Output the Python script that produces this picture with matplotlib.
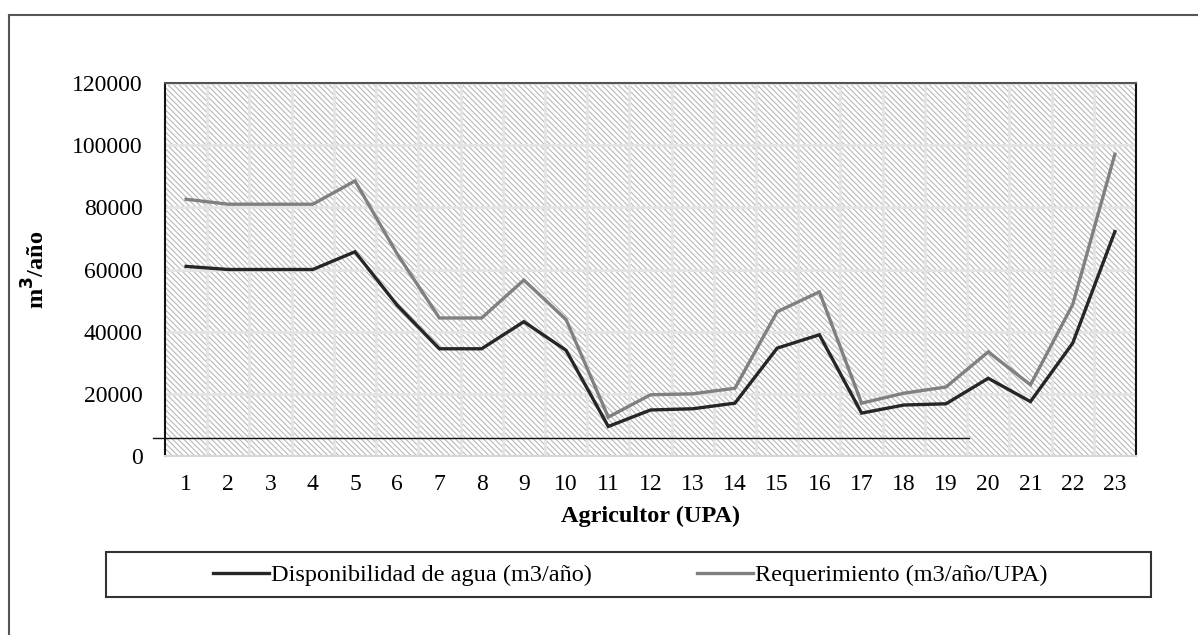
import matplotlib
matplotlib.use('Agg')
import matplotlib.pyplot as plt
from matplotlib.lines import Line2D
from matplotlib.patches import Rectangle
import numpy as np

plt.rcParams['font.family'] = ['Liberation Serif', 'DejaVu Serif']
plt.rcParams['hatch.color'] = '#b8b8b8'
plt.rcParams['hatch.linewidth'] = 0.8

agricultor = list(range(1, 24))
disponibilidad = [61000, 60000, 60000, 60000, 65700, 48500, 34500, 34500, 43200, 34000,
                  9500, 14800, 15200, 17000, 34700, 39000, 13800, 16400, 16800, 25000,
                  17500, 36300, 72200]
requerimiento = [82600, 81000, 81000, 81000, 88500, 65000, 44400, 44400, 56600, 43900,
                 12500, 19700, 20000, 21800, 46400, 52800, 17000, 20200, 22200, 33500,
                 22900, 48700, 97100]
y_ticks = [0, 20000, 40000, 60000, 80000, 100000, 120000]

W, H = 1198, 635
fig = plt.figure(figsize=(W / 100, H / 100), dpi=100)
ax = fig.add_axes([165 / W, 1 - 456 / H, (1136 - 165) / W, (456 - 83) / H])

# hatched plot area
ax.patch.set_facecolor('white')
ax.patch.set_hatch('\\' * 6)
ax.patch.set_edgecolor('#b8b8b8')
ax.patch.set_linewidth(0)

x = np.array(agricultor)
ax.plot(x, disponibilidad, color='#262626', lw=2.4, solid_joinstyle='miter', zorder=3)
ax.plot(x, requerimiento, color='#808080', lw=2.4, solid_joinstyle='miter', zorder=3)

ax.set_xlim(0.5, 23.5)
ax.set_ylim(0, 120000)
ax.set_xticks(x)
ax.set_xticklabels([str(a) for a in agricultor])
ax.set_yticks(y_ticks)
ax.set_yticklabels([str(v) for v in y_ticks])
ax.set_xticks(np.arange(1.5, 23.5, 1), minor=True)
ax.grid(True, which='major', axis='y', color='#e4e4e4', lw=2, zorder=1)
ax.grid(True, which='minor', axis='x', color='#e4e4e4', lw=2, zorder=1)
ax.set_axisbelow(True)
ax.tick_params(which='both', length=0)
ax.tick_params(axis='y', labelsize=17, pad=16)
ax.tick_params(axis='x', labelsize=17, pad=13)

ax.spines['left'].set_color('#111111')
ax.spines['left'].set_linewidth(1.5)
ax.spines['right'].set_color('#111111')
ax.spines['right'].set_linewidth(1.5)
ax.spines['top'].set_color('#555555')
ax.spines['top'].set_linewidth(1.5)
ax.spines['bottom'].set_color('#d6d6d6')
ax.spines['bottom'].set_linewidth(1.5)

ax.set_xlabel('Agricultor (UPA)', fontsize=17.5, fontweight='bold', labelpad=8)
ax.set_ylabel('m$^\\mathbf{3}$/año', fontsize=17.5, fontweight='bold', labelpad=16)

# stray horizontal rule across the lower part of the plot
fig.add_artist(Line2D([153 / W, 969 / W], [1 - 438 / H, 1 - 438 / H], color='#111111', lw=1))

# outer frame (left and top edges)
fig.add_artist(Line2D([9 / W, 9 / W], [1 - 15 / H, 1 - 634 / H], color='#555555', lw=1.5))
fig.add_artist(Line2D([9 / W, 1], [1 - 15 / H, 1 - 15 / H], color='#555555', lw=1.5))

# legend box
fig.add_artist(Rectangle((106 / W, 1 - 597 / H), (1151 - 106) / W, 45 / H,
                         transform=fig.transFigure, fill=False, edgecolor='#333333', lw=1.5))
handles = [Line2D([], [], color='#262626', lw=2.4), Line2D([], [], color='#808080', lw=2.4)]
fig.legend(handles, ['Disponibilidad de agua (m3/año)', 'Requerimiento (m3/año/UPA)'],
           loc='center left', bbox_to_anchor=(213 / W, 1 - 575 / H), ncol=2, frameon=False,
           fontsize=17.5, handlelength=2.3, handletextpad=0.1, columnspacing=4.3,
           borderpad=0, borderaxespad=0)

fig.savefig('out.png', dpi=100)
